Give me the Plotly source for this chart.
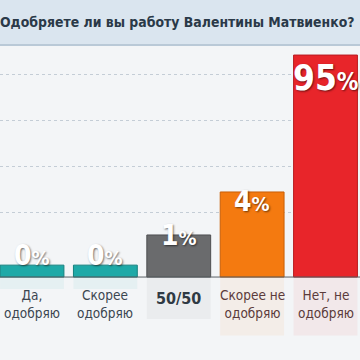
import plotly.graph_objects as go

# ---- data ----
categories = ["Да,<br>одобряю", "Скорее<br>одобряю", "50/50", "Скорее не<br>одобряю", "Нет, не<br>одобряю"]
values = [0, 0, 1, 4, 95]                 # percent shown on the labels
bar_heights = [5.1, 5.1, 18.0, 36.4, 95]  # heights as drawn in the infographic (not to scale)
title_text = "Одобряете ли вы работу Валентины Матвиенко?"

# ---- style ----
bar_colors = ["#1ea9a7", "#1ea9a7", "#6a6b6d", "#f47a10", "#e8252a"]
edge_colors = ["#15807e", "#15807e", "#4e4f51", "#c85f08", "#b81b1f"]
cat_colors = ["#3b4650", "#3b4650", "#2f3a44", "#5b3b3b", "#5b3b3b"]
label_shift = [10, 10, -1, -10, -23]
digit_size = [28, 28, 28, 28, 35]
pct_size = [20, 20, 20, 20, 24]
FONT = "DejaVu Sans Condensed, Roboto, sans-serif"

x = list(range(len(categories)))

fig = go.Figure()

# faint floor reflection
fig.add_trace(go.Bar(
    x=x, y=[-min(h, 25) for h in bar_heights], base=0,
    marker=dict(color=bar_colors, line=dict(width=0)), opacity=0.06,
    hoverinfo="skip", showlegend=False))

fig.add_trace(go.Bar(
    x=x, y=bar_heights,
    marker=dict(color=bar_colors, line=dict(color=edge_colors, width=1)),
    hoverinfo="skip", showlegend=False))

# percentage labels
for i, v in enumerate(values):
    fig.add_annotation(
        x=i, y=bar_heights[i], xref="x", yref="y",
        text=f"<b>{v}<span style='font-size:{pct_size[i]}px'>%</span></b>",
        showarrow=False, yanchor="middle", yshift=label_shift[i],
        font=dict(family=FONT, size=digit_size[i], color="white",
                  shadow="1px 1px 2px rgba(0,0,0,0.55)"))

# category labels
for i, c in enumerate(categories):
    bold = (c == "50/50")
    fig.add_annotation(
        x=i, y=0, xref="x", yref="y",
        text=f"<b>{c}</b>" if bold else c,
        showarrow=False, yanchor="top", yshift=-8 if not bold else -10,
        font=dict(family=FONT, size=16 if bold else 13.5, color=cat_colors[i]))

# title
fig.add_annotation(
    x=357 / 360, y=1.073, xref="paper", yref="paper",
    text=f"<b>{title_text}</b>", showarrow=False,
    xanchor="right", yanchor="middle",
    font=dict(family=FONT, size=13.9, color="#2a3948"))

# header band and baseline
fig.add_shape(type="rect", xref="paper", yref="paper", x0=0, x1=1, y0=1, y1=1.2,
              fillcolor="#dae5ef", line=dict(width=0), layer="below")
fig.add_shape(type="line", xref="paper", yref="paper", x0=0, x1=1, y0=1, y1=1,
              line=dict(color="#b9c9d7", width=2))
fig.add_shape(type="line", xref="paper", yref="y", x0=0, x1=1, y0=0, y1=0,
              line=dict(color="#5a6066", width=1))

fig.update_layout(
    width=360, height=360,
    margin=dict(l=0, r=0, t=45, b=0),
    paper_bgcolor="#f3f5f7", plot_bgcolor="#f3f5f7",
    bargap=0.13, barmode="overlay",
    xaxis=dict(range=[-0.436, 4.47], showticklabels=False, showgrid=False,
               zeroline=False, fixedrange=True),
    yaxis=dict(range=[-35.5, 99.3], showticklabels=False, zeroline=False,
               tickvals=[27.8, 47.4, 67.1, 86.8], showgrid=True,
               gridcolor="#c4cdd6", griddash="dot", gridwidth=1, fixedrange=True),
)

fig.write_html("out.html", config={"displayModeBar": False},
               post_script="document.body.style.margin='0';document.body.style.overflow='hidden';")
